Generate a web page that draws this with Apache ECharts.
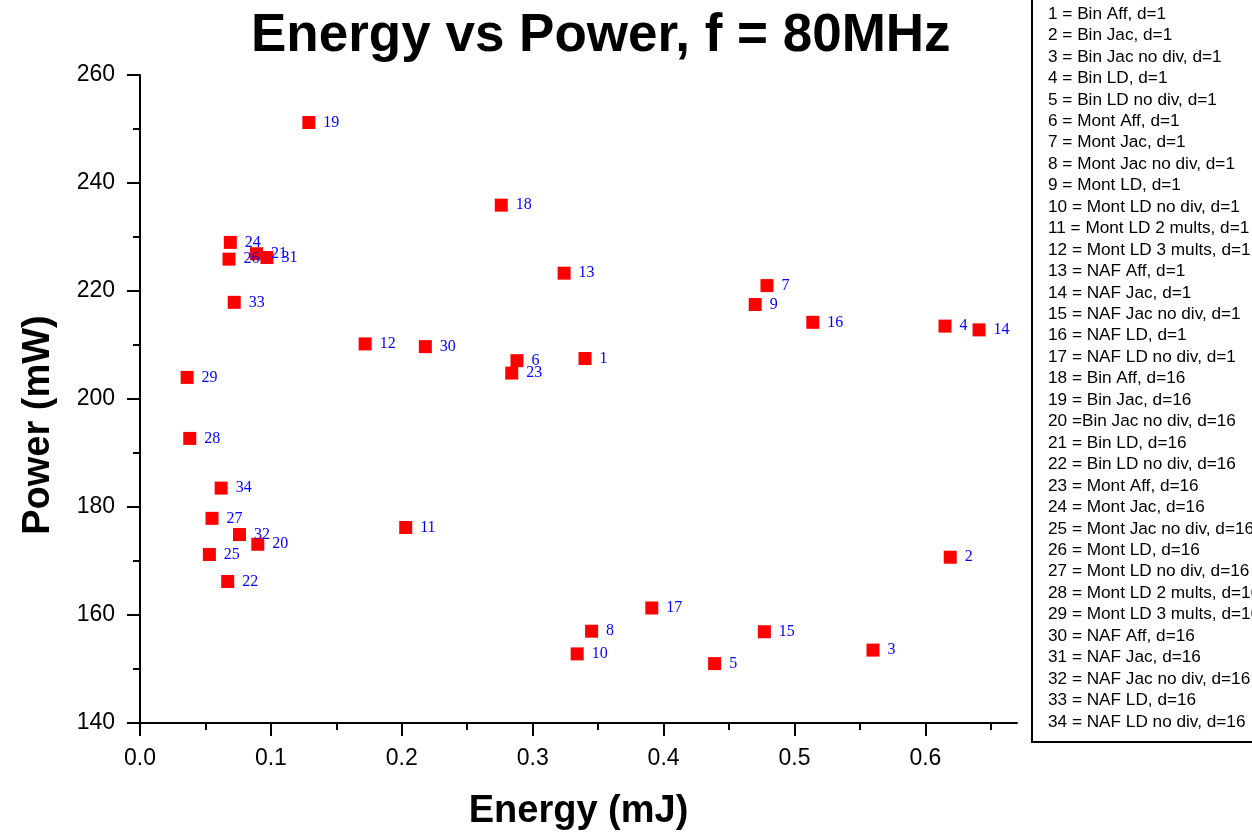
<!DOCTYPE html>
<html>
<head>
<meta charset="utf-8">
<script src="https://cdn.jsdelivr.net/npm/echarts@6/dist/echarts.min.js"></script>
<style>
  html, body { margin: 0; padding: 0; background: #fff; }
  #chart { width: 1252px; height: 833px; }
</style>
</head>
<body>
<div id="chart"></div>
<script>
// point numbers, energy (mJ) and power (mW)
var pointIds = [1, 2, 3, 4, 5, 6, 7, 8, 9, 10, 11, 12, 13, 14, 15, 16, 17,
                18, 19, 20, 21, 22, 23, 24, 25, 26, 27, 28, 29, 30, 31, 32, 33, 34];
var energy = [0.340, 0.619, 0.560, 0.615, 0.439, 0.288, 0.479, 0.345, 0.470, 0.334, 0.203, 0.172,
              0.324, 0.641, 0.477, 0.514, 0.391, 0.276, 0.129, 0.090, 0.089, 0.067, 0.284, 0.069,
              0.053, 0.068, 0.055, 0.038, 0.036, 0.218, 0.097, 0.076, 0.072, 0.062];
var power = [207.5, 170.7, 153.5, 213.5, 151.0, 207.1, 221.0, 157.0, 217.5, 152.8, 176.2, 210.2,
             223.3, 212.8, 156.9, 214.2, 161.3, 235.9, 251.2, 173.1, 226.9, 166.2, 204.8, 229.0,
             171.2, 225.9, 177.9, 192.7, 204.0, 209.7, 226.2, 174.9, 217.9, 183.5];

// tick positions
var xMajorTicks = [0, 0.1, 0.2, 0.3, 0.4, 0.5, 0.6];
var xMinorTicks = [0.05, 0.15, 0.25, 0.35, 0.45, 0.55, 0.65];

// key text in the box on the right
var keyLines = [
    "1 = Bin Aff, d=1", "2 = Bin Jac, d=1", "3 = Bin Jac no div, d=1", "4 = Bin LD, d=1",
    "5 = Bin LD no div, d=1", "6 = Mont Aff, d=1", "7 = Mont Jac, d=1", "8 = Mont Jac no div, d=1",
    "9 = Mont LD, d=1", "10 = Mont LD no div, d=1", "11 = Mont LD 2 mults, d=1",
    "12 = Mont LD 3 mults, d=1", "13 = NAF Aff, d=1", "14 = NAF Jac, d=1",
    "15 = NAF Jac no div, d=1", "16 = NAF LD, d=1", "17 = NAF LD no div, d=1",
    "18 = Bin Aff, d=16", "19 = Bin Jac, d=16", "20 =Bin Jac no div, d=16", "21 = Bin LD, d=16",
    "22 = Bin LD no div, d=16", "23 = Mont Aff, d=16", "24 = Mont Jac, d=16",
    "25 = Mont Jac no div, d=16", "26 = Mont LD, d=16", "27 = Mont LD no div, d=16",
    "28 = Mont LD 2 mults, d=16", "29 = Mont LD 3 mults, d=16", "30 = NAF Aff, d=16",
    "31 = NAF Jac, d=16", "32 = NAF Jac no div, d=16", "33 = NAF LD, d=16", "34 = NAF LD no div, d=16"
];

var SANS = "'Liberation Sans', Arial, Helvetica, sans-serif";
var SERIF = "'Liberation Serif', 'Times New Roman', serif";

var points = [];
for (var i = 0; i < pointIds.length; i++) {
    points.push([energy[i], power[i], pointIds[i]]);
}

// key box drawn as graphic texts
var keyChildren = [{
    type: 'rect',
    shape: { x: 1032, y: -10, width: 300, height: 752 },
    style: { fill: '#fff', stroke: '#000', lineWidth: 2 }
}];
keyLines.forEach(function (line, k) {
    keyChildren.push({
        type: 'text',
        x: 1048,
        y: 14 + k * 21.45,
        style: { text: line, font: '17.2px ' + SANS, fill: '#000', verticalAlign: 'middle', align: 'left' }
    });
});

var myChart = echarts.init(document.getElementById('chart'));
var option = {
    backgroundColor: '#fff',
    animation: false,
    title: {
        text: 'Energy vs Power, f = 80MHz',
        left: 251,
        top: 10,
        padding: 0,
        textStyle: { fontFamily: SANS, fontWeight: 'bold', fontSize: 53, color: '#000' }
    },
    grid: { left: 140, right: 235, top: 75, bottom: 110, outerBoundsMode: 'none' },
    xAxis: [{
        type: 'value',
        min: 0,
        max: 0.67,
        name: 'Energy (mJ)',
        nameLocation: 'middle',
        nameGap: 70,
        nameTextStyle: { fontFamily: SANS, fontWeight: 'bold', fontSize: 38, color: '#000' },
        axisLine: { show: true, lineStyle: { color: '#000', width: 2 } },
        axisTick: { show: true, length: 13, customValues: xMajorTicks, lineStyle: { color: '#000', width: 2 } },
        axisLabel: {
            customValues: xMajorTicks,
            margin: 24,
            fontFamily: SANS, fontSize: 23, color: '#000',
            formatter: function (v) { return v.toFixed(1); }
        },
        splitLine: { show: false }
    }, {
        type: 'value',
        min: 0,
        max: 0.67,
        position: 'bottom',
        axisLine: { show: false },
        axisTick: { show: true, length: 7, customValues: xMinorTicks, lineStyle: { color: '#000', width: 2 } },
        axisLabel: { show: false },
        splitLine: { show: false }
    }],
    yAxis: {
        type: 'value',
        min: 140,
        max: 260,
        interval: 20,
        name: 'Power (mW)',
        nameLocation: 'middle',
        nameGap: 82,
        nameTextStyle: { fontFamily: SANS, fontWeight: 'bold', fontSize: 38, color: '#000', padding: [0, 52, 0, 0] },
        axisLine: { show: true, lineStyle: { color: '#000', width: 2 } },
        axisTick: { show: true, length: 13, lineStyle: { color: '#000', width: 2 } },
        minorTick: { show: true, splitNumber: 2, length: 7, lineStyle: { color: '#000', width: 2 } },
        axisLabel: { margin: 25, fontFamily: SANS, fontSize: 23, color: '#000' },
        splitLine: { show: false }
    },
    series: [{
        type: 'scatter',
        xAxisIndex: 0,
        data: points,
        symbol: 'rect',
        symbolSize: 13,
        itemStyle: { color: '#ff0000', opacity: 1 },
        label: {
            show: true,
            position: 'right',
            distance: 8,
            fontFamily: SERIF,
            fontSize: 16,
            color: '#0000ff',
            formatter: function (p) { return p.value[2]; }
        }
    }],
    graphic: [{ type: 'group', silent: true, children: keyChildren }]
};
myChart.setOption(option);
</script>
</body>
</html>
